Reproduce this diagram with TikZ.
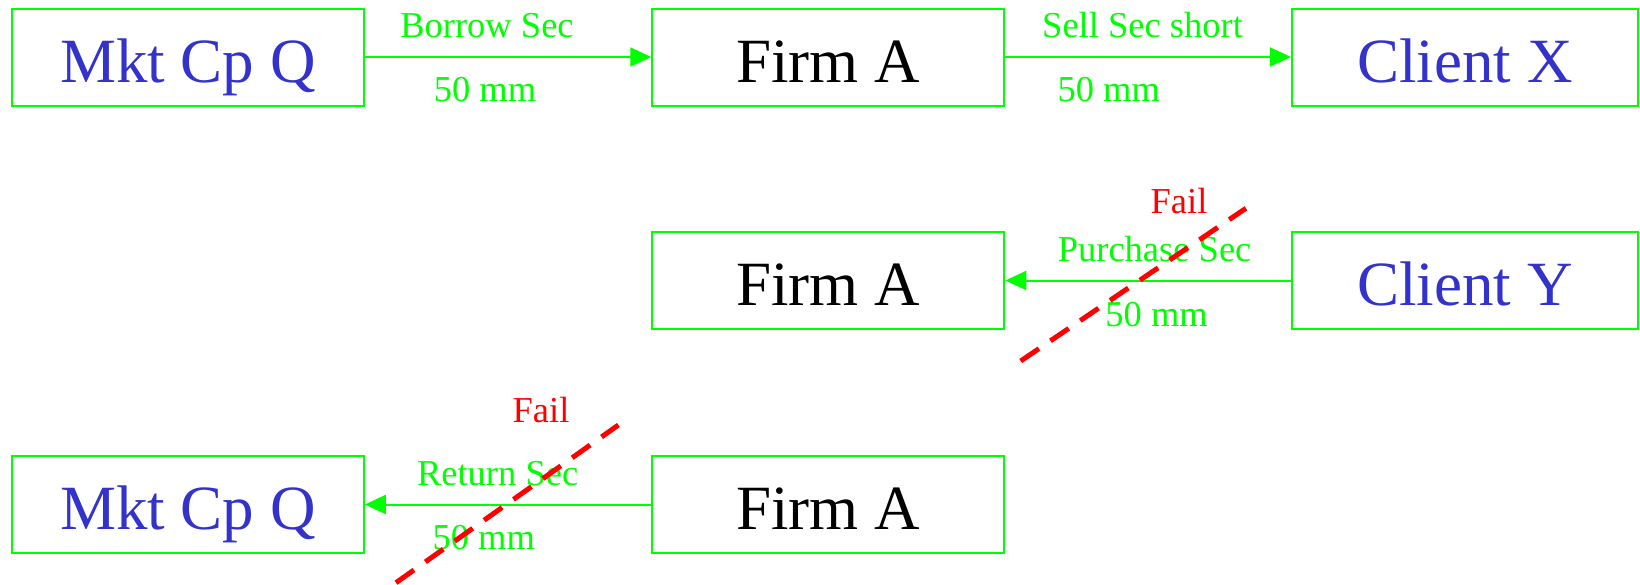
\documentclass[tikz,border=0pt]{standalone}
\usepackage{fontspec}
\setmainfont{Liberation Serif}
\usetikzlibrary{arrows.meta}
\definecolor{boxblue}{RGB}{51,51,204}
\definecolor{lgreen}{RGB}{0,255,0}
\definecolor{fred}{RGB}{255,0,0}
\tikzset{
  entity/.style={draw=lgreen, line width=2pt, minimum height=97pt, inner sep=0pt,
    text height=50pt, text depth=0pt, font=\fontsize{63}{70}\selectfont},
  lbl/.style={anchor=base, inner sep=0pt, text=lgreen, font=\fontsize{36.5}{40}\selectfont},
  faillbl/.style={anchor=base, inner sep=0pt, text=fred, font=\fontsize{36.5}{40}\selectfont},
  flow/.style={draw=lgreen, line width=2pt, -{Triangle[length=21pt,width=19pt]}},
  failline/.style={draw=fred, line width=5pt, dash pattern=on 22pt off 14pt}
}
\begin{document}
\begin{tikzpicture}[x=1pt,y=-1pt]
\useasboundingbox (0,0) rectangle (1640,584);
% row 1
\node[entity, minimum width=352pt, text=boxblue] (q1) at (187.8,57) {Mkt Cp Q};
\node[entity, minimum width=352pt, text=black] (a1) at (828.3,57) {Firm A};
\node[entity, minimum width=346pt, text=boxblue] (x) at (1465,57) {Client X};
\draw[flow] (q1.east) -- (a1.west);
\draw[flow] (a1.east) -- (x.west);
\node[lbl] (l1) at (487,37.7) {Borrow Sec};
\node[lbl] (l2) at (485,101.7) {50 mm};
\node[lbl] (l3) at (1142.6,37.7) {Sell Sec short};
\node[lbl] (l4) at (1108.8,101.7) {50 mm};
% row 2
\node[entity, minimum width=352pt, text=black] (a2) at (828.3,280.5) {Firm A};
\node[entity, minimum width=346pt, text=boxblue] (y) at (1465,280.5) {Client Y};
\draw[flow] (y.west) -- (a2.east);
\node[lbl] (l5) at (1154.6,261.7) {Purchase Sec};
\node[lbl] (l6) at (1156.6,326) {50 mm};
\node[faillbl] (f1) at (1179,213) {Fail};
\coordinate (r1a) at (1020.7,361);
\coordinate (r1b) at (1245.9,208.3);
\draw[failline] (r1a) -- (r1b);
% row 3
\node[entity, minimum width=352pt, text=boxblue] (q3) at (187.8,504.5) {Mkt Cp Q};
\node[entity, minimum width=352pt, text=black] (a3) at (828.3,504.5) {Firm A};
\draw[flow] (a3.west) -- (q3.east);
\node[lbl] (l7) at (497.6,485) {Return Sec};
\node[lbl] (l8) at (483.7,549.3) {50 mm};
\node[faillbl] (f2) at (541,422.3) {Fail};
\coordinate (r2a) at (396,582.7);
\coordinate (r2b) at (618.4,425);
\draw[failline] (r2a) -- (r2b);
\end{tikzpicture}
\end{document}
